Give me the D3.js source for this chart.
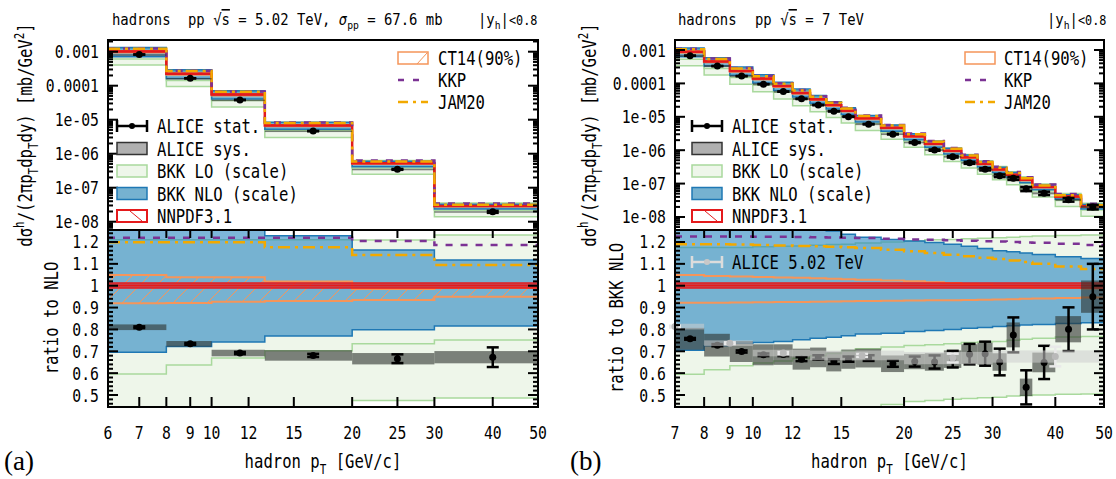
<!DOCTYPE html>
<html><head><meta charset="utf-8">
<script src="https://cdn.jsdelivr.net/npm/d3@7"></script>
<style>body{margin:0;background:#fff} text{white-space:pre}</style>
</head><body><svg id="c" width="1116" height="479"></svg>
<script>
// ---------------- DATA ----------------
// Panel (a): 5.02 TeV
const binEdgesA = [6,8,10,13,20,30,50];
const ptA = [7,9,11.5,16.5,25,40];
const nloCentralA = [1.02e-3,2.25e-4,5.5e-5,6.8e-6,5.2e-7,2.9e-8];
const aliceA = [0.810,0.734,0.692,0.681,0.666,0.673];
const aliceStatA = [0.004,0.004,0.005,0.007,0.020,0.045];
const aliceSysA = [0.013,0.013,0.015,0.024,0.026,0.028];
const nloLowA = [0.696,0.722,0.742,0.770,0.798,0.816];
const nloHighA = [1.30,1.30,1.30,1.229,1.163,1.118];
const loLowA = [0.40,0.42,0.43,0.44,0.475,0.486];
const loHighA = [1.21,1.21,1.21,1.21,1.209,1.232];
const loMidA = [0.596,0.637,0.669,0.702,0.734,0.752];
const ct14HighA = [1.049,1.039,1.039,1.019,0.985,0.989];
const ct14LowA = [0.920,0.921,0.927,0.930,0.935,0.950];
const nnpdfHighA = [1.012,1.012,1.012,1.012,1.012,1.012];
const nnpdfLowA = [0.990,0.990,0.990,0.990,0.990,0.990];
const kkpA = [1.220,1.220,1.220,1.220,1.205,1.186];
const jam20A = [1.199,1.199,1.199,1.176,1.141,1.095];

// Panel (b): 7 TeV
const binEdgesB = [7,8,9,10,11,12,13,14,15,16,18,20,22,24,26,28,30,32,34,36,40,45,50];
const ptB = [7.5,8.5,9.5,10.5,11.5,12.5,13.5,14.5,15.5,17,19,21,23,25,27,29,31,33,35,38,42.5,47.5];
const nloCentralB = [8.9e-4,4.55e-4,2.37e-4,1.39e-4,8.3e-5,5.2e-5,3.35e-5,2.25e-5,1.52e-5,9.0e-6,4.7e-6,2.6e-6,1.55e-6,9.6e-7,6.1e-7,3.9e-7,2.65e-7,1.85e-7,1.3e-7,7.9e-8,4.1e-8,2.1e-8];
const aliceB = [0.757,0.728,0.699,0.684,0.685,0.664,0.672,0.653,0.664,0.669,0.643,0.653,0.651,0.664,0.687,0.689,0.651,0.775,0.535,0.649,0.801,0.950];
const aliceStatB = [0.004,0.005,0.005,0.006,0.007,0.009,0.010,0.011,0.012,0.013,0.014,0.023,0.030,0.038,0.047,0.055,0.061,0.080,0.078,0.076,0.100,0.150];
const aliceSysB = [0.050,0.052,0.048,0.048,0.047,0.048,0.045,0.045,0.044,0.043,0.038,0.035,0.040,0.040,0.045,0.050,0.040,0.057,0.040,0.045,0.060,0.074];
const nloLowB = [0.705,0.725,0.737,0.740,0.745,0.753,0.760,0.764,0.771,0.779,0.783,0.790,0.795,0.800,0.805,0.809,0.813,0.817,0.820,0.823,0.827,0.830];
const nloHighB = [1.30,1.30,1.30,1.30,1.30,1.30,1.30,1.25,1.235,1.222,1.212,1.205,1.198,1.190,1.180,1.170,1.160,1.155,1.150,1.143,1.133,1.125];
const loLowB = [0.38,0.39,0.40,0.405,0.41,0.415,0.42,0.425,0.43,0.435,0.456,0.470,0.475,0.480,0.484,0.487,0.490,0.495,0.498,0.500,0.503,0.505];
const loHighB = [1.175,1.175,1.175,1.178,1.180,1.182,1.185,1.188,1.190,1.195,1.200,1.205,1.210,1.212,1.215,1.217,1.220,1.222,1.225,1.227,1.230,1.232];
const loMidB = [0.595,0.615,0.634,0.646,0.655,0.668,0.680,0.690,0.700,0.712,0.720,0.726,0.730,0.735,0.740,0.742,0.745,0.750,0.755,0.760,0.765,0.768];
const ct14HighB = [1.049,1.045,1.042,1.040,1.038,1.036,1.034,1.032,1.030,1.027,1.024,1.020,1.016,1.012,1.008,1.004,1.000,0.997,0.994,0.991,0.989,0.987];
const ct14LowB = [0.922,0.922,0.923,0.924,0.925,0.926,0.927,0.928,0.929,0.930,0.931,0.932,0.933,0.934,0.935,0.936,0.937,0.938,0.940,0.942,0.944,0.946];
const nnpdfHighB = [1.012,1.012,1.012,1.012,1.012,1.012,1.012,1.012,1.012,1.012,1.012,1.012,1.012,1.012,1.012,1.012,1.012,1.012,1.012,1.012,1.012,1.012];
const nnpdfLowB = [0.990,0.990,0.990,0.990,0.990,0.990,0.990,0.990,0.990,0.990,0.990,0.990,0.990,0.990,0.990,0.990,0.990,0.990,0.990,0.990,0.990,0.990];
const kkpB = [1.225,1.225,1.225,1.224,1.224,1.223,1.222,1.221,1.220,1.218,1.215,1.212,1.210,1.208,1.206,1.204,1.202,1.200,1.198,1.196,1.192,1.186];
const jam20B = [1.190,1.190,1.188,1.186,1.184,1.182,1.180,1.178,1.176,1.172,1.165,1.158,1.150,1.142,1.135,1.128,1.122,1.115,1.108,1.100,1.088,1.077];

// ALICE 5.02 TeV overlay in panel (b)
const binEdges502 = [6,8,10,13,20,30,50];
const pt502 = [7,9,11.5,16.5,25,40];
const alice502 = [0.813,0.737,0.692,0.681,0.669,0.676];
const alice502Stat = [0.004,0.004,0.005,0.007,0.020,0.045];
const alice502Sys = [0.013,0.013,0.015,0.022,0.028,0.028];

// Ticks
const xTicksA = [6,7,8,9,10,12,15,20,25,30,40,50];
const xTicksB = [7,8,9,10,12,15,20,25,30,40,50];
const yTicksUpper = [1e-3,1e-4,1e-5,1e-6,1e-7,1e-8];
const yTickLabelsUpper = ["0.001","0.0001","1e-05","1e-06","1e-07","1e-08"];
const yTicksLower = [0.5,0.6,0.7,0.8,0.9,1.0,1.1,1.2];
const yTickLabelsLower = ["0.5","0.6","0.7","0.8","0.9","1","1.1","1.2"];

// ---------------- DRAWING ----------------
const MONO = "'DejaVu Sans Mono', monospace";
const C = {loFill:'#eef6ea', loStroke:'#a9d99d', nloFill:'rgba(38,133,191,0.6)', nloStroke:'#1f78b4',
  nloLeg:'#76b2d0', ct:'#f5955a', nn:'#e41a1c', kkp:'#7b3294', jam:'#f2a900',
  sys:'rgba(45,50,45,0.6)', ov:'rgba(205,205,205,0.55)'};
const svg = d3.select('#c');
const defs = svg.append('defs');
const hatch = defs.append('pattern').attr('id','hatch').attr('patternUnits','userSpaceOnUse')
  .attr('width',17).attr('height',17);
hatch.append('path').attr('d','M0,17 L17,0 M-4,4 L4,-4 M13,21 L21,13').attr('stroke',C.ct).attr('stroke-width',1);

function clip(id,x,y,w,h){defs.append('clipPath').attr('id',id).append('rect').attr('x',x).attr('y',y).attr('width',w).attr('height',h);}

function rich(g,x,y,segs,o={}){
  const size=o.size||18, sx=o.sx||0.8;
  let tr=`translate(${x},${y})`; if(o.rot) tr+=` rotate(${o.rot})`; tr+=` scale(${sx},1)`;
  const t=g.append('text').attr('transform',tr).attr('font-family',o.family||MONO).attr('font-size',size)
    .attr('text-anchor',o.anchor||'start').attr('fill',o.fill||'#000').attr('xml:space','preserve');
  if(typeof segs==='string') segs=[{t:segs}];
  let cur=0;
  segs.forEach(s=>{
    const shift = s.s==='sub'? size*0.28 : s.s==='sup'? -size*0.42 : 0;
    const ts=t.append('tspan').text(s.t).attr('dy',shift-cur);
    cur=shift;
    if(s.s) ts.attr('font-size',size*0.7);
    if(s.k) ts.attr('font-size',size*s.k);
    if(s.i) ts.attr('font-style','italic');
    if(s.o) ts.style('text-decoration','overline');
  });
  return t;
}

function drawPanel(P){
  const g=svg.append('g');
  const x=d3.scaleLog().domain([P.xmin,P.xmax]).range([P.left,P.right]);
  const yU=d3.scaleLog().domain([Math.pow(10,P.uLo),Math.pow(10,P.uHi)]).range([230,40]);
  const yL=d3.scaleLinear().domain([0.4451,1.2549]).range([407,230]);
  clip('cu'+P.id,P.left,40,P.right-P.left,190);
  clip('cl'+P.id,P.left,230,P.right-P.left,177);
  const U=g.append('g').attr('clip-path',`url(#cu${P.id})`);
  const L=g.append('g').attr('clip-path',`url(#cl${P.id})`);

  function layers(G,y,conv,lower){
    const e=P.edges,n=e.length-1;
    const steps=f=>{const a=[];for(let i=0;i<n;i++){a.push([e[i],f(i)]);a.push([e[i+1],f(i)]);}return a;};
    const band=(lo,hi)=>{const a=[];for(let i=0;i<n;i++){const l=conv(i,lo[i]),h=conv(i,hi[i]);a.push([e[i],l,h]);a.push([e[i+1],l,h]);}return a;};
    const area=d3.area().x(d=>x(d[0])).y0(d=>y(d[1])).y1(d=>y(d[2]));
    const line=d3.line().x(d=>x(d[0])).y(d=>y(d[1]));
    const ln=arr=>line(steps(i=>conv(i,arr[i])));
    // LO
    G.append('path').attr('d',area(band(P.loLow,P.loHigh))).attr('fill',C.loFill);
    [P.loLow,P.loHigh,P.loMid].forEach(a=>G.append('path').attr('d',ln(a)).attr('fill','none').attr('stroke',C.loStroke).attr('stroke-width',1.5));
    // NLO
    G.append('path').attr('d',area(band(P.nloLow,P.nloHigh))).attr('fill',C.nloFill);
    [P.nloLow,P.nloHigh].forEach(a=>G.append('path').attr('d',ln(a)).attr('fill','none').attr('stroke',C.nloStroke).attr('stroke-width',1.5));
    // CT14
    if(lower && P.hatch) G.append('path').attr('d',area(band(P.ctLow,P.ctHigh))).attr('fill','url(#hatch)');
    [P.ctLow,P.ctHigh].forEach(a=>G.append('path').attr('d',ln(a)).attr('fill','none').attr('stroke',C.ct).attr('stroke-width',lower?2:1.5));
    // NNPDF
    G.append('path').attr('d',area(band(P.nnLow,P.nnHigh))).attr('fill','rgba(228,26,28,0.55)');
    [P.nnLow,P.nnHigh].forEach(a=>G.append('path').attr('d',ln(a)).attr('fill','none').attr('stroke',C.nn).attr('stroke-width',lower?1.5:1.5));
    G.append('path').attr('d',ln(P.nnLow.map((v,i)=>(v+P.nnHigh[i])/2))).attr('fill','none').attr('stroke',C.nn).attr('stroke-width',lower?2:2.5);
    // KKP, JAM20
    G.append('path').attr('d',ln(P.kkp)).attr('fill','none').attr('stroke',C.kkp).attr('stroke-width',2.5).attr('stroke-dasharray','7,8');
    G.append('path').attr('d',ln(P.jam)).attr('fill','none').attr('stroke',C.jam).attr('stroke-width',2.5).attr('stroke-dasharray','12,5,3,5');
    // ALICE sys
    P.alice.forEach((r,i)=>{
      const y0=y(conv(i,r+P.sys[i])),y1=y(conv(i,r-P.sys[i]));
      G.append('rect').attr('x',x(e[i])).attr('width',x(e[i+1])-x(e[i])).attr('y',y0).attr('height',Math.max(1.5,y1-y0)).attr('fill',C.sys);
    });
    // ALICE points
    P.alice.forEach((r,i)=>{
      const px=x(P.pt[i]),py=y(conv(i,r)),ya=y(conv(i,r+P.stat[i])),yb=y(conv(i,r-P.stat[i]));
      const gg=G.append('g').attr('stroke','#000').attr('stroke-width',2.5);
      gg.append('line').attr('x1',px).attr('x2',px).attr('y1',ya).attr('y2',yb);
      gg.append('line').attr('x1',px-6).attr('x2',px+6).attr('y1',ya).attr('y2',ya);
      gg.append('line').attr('x1',px-6).attr('x2',px+6).attr('y1',yb).attr('y2',yb);
      G.append('circle').attr('cx',px).attr('cy',py).attr('r',3.5).attr('fill','#000');
    });
  }
  layers(U,yU,(i,r)=>P.nlo[i]*r,false);
  layers(L,yL,(i,r)=>r,true);

  // 5.02 overlay
  if(P.ov){
    const o=P.ov;
    o.val.forEach((r,i)=>{
      L.append('rect').attr('x',x(Math.max(o.edges[i],P.xmin))).attr('width',x(o.edges[i+1])-x(Math.max(o.edges[i],P.xmin)))
        .attr('y',yL(r+o.sys[i])).attr('height',yL(r-o.sys[i])-yL(r+o.sys[i])).attr('fill',C.ov);
    });
    o.val.forEach((r,i)=>{
      const px=x(o.pt[i]),ya=yL(r+o.stat[i]),yb=yL(r-o.stat[i]);
      const gg=g.append('g').attr('stroke','#e9e9e9').attr('stroke-width',2.5);
      gg.append('line').attr('x1',px).attr('x2',px).attr('y1',ya).attr('y2',yb);
      gg.append('line').attr('x1',px-6).attr('x2',px+6).attr('y1',ya).attr('y2',ya);
      gg.append('line').attr('x1',px-6).attr('x2',px+6).attr('y1',yb).attr('y2',yb);
      g.append('circle').attr('cx',px).attr('cy',yL(r)).attr('r',3.5).attr('fill','#b9b9b9');
    });
  }

  // Axes / ticks
  const A=g.append('g').attr('stroke','#000');
  // upper y ticks
  for(let k=-9;k<=-2;k++){
    for(let m=1;m<=9;m++){
      const v=m*Math.pow(10,k);
      if(v<yU.domain()[0]||v>yU.domain()[1]) continue;
      const yy=yU(v),len=m===1?10:5;
      A.append('line').attr('x1',P.left).attr('x2',P.left+len).attr('y1',yy).attr('y2',yy).attr('stroke-width',2);
      A.append('line').attr('x1',P.right).attr('x2',P.right-len).attr('y1',yy).attr('y2',yy).attr('stroke-width',2);
    }
  }
  yTicksUpper.forEach((v,i)=>rich(g,P.left-9,yU(v)+6.5,yTickLabelsUpper[i],{size:18,sx:0.82,anchor:'end'}));
  // lower y ticks
  for(let j=23;j<=62;j++){
    const v=j*0.02; const yy=yL(v); const major=(j%5===0);
    const len=major?10:5;
    A.append('line').attr('x1',P.left).attr('x2',P.left+len).attr('y1',yy).attr('y2',yy).attr('stroke-width',2);
    A.append('line').attr('x1',P.right).attr('x2',P.right-len).attr('y1',yy).attr('y2',yy).attr('stroke-width',2);
  }
  yTicksLower.forEach((v,i)=>rich(g,P.left-9,yL(v)+6.5,yTickLabelsLower[i],{size:18,sx:0.82,anchor:'end'}));
  // x ticks
  P.xticks.forEach(v=>{
    const xx=x(v);
    A.append('line').attr('x1',xx).attr('x2',xx).attr('y1',407).attr('y2',397).attr('stroke-width',2);
    A.append('line').attr('x1',xx).attr('x2',xx).attr('y1',230).attr('y2',238).attr('stroke-width',2);
    rich(g,xx,439,String(v),{size:18,sx:0.82,anchor:'middle'});
  });
  // frames
  g.append('rect').attr('x',P.left).attr('y',40).attr('width',P.right-P.left).attr('height',190).attr('fill','none').attr('stroke','#000').attr('stroke-width',2);
  g.append('rect').attr('x',P.left).attr('y',230).attr('width',P.right-P.left).attr('height',177).attr('fill','none').attr('stroke','#000').attr('stroke-width',2);

  // axis titles
  rich(g,(P.left+P.right)/2,468,[{t:'hadron p'},{t:'T',s:'sub'},{t:' [GeV/c]'}],{size:20,sx:0.78,anchor:'middle'});
  rich(g,P.yTitleX,135,[{t:'dσ'},{t:'h',s:'sup'},{t:'/(2πp'},{t:'T',s:'sub'},{t:'dp'},{t:'T',s:'sub'},{t:'dy) [mb/GeV'},{t:'2',s:'sup'},{t:']'}],{size:20,sx:0.78,anchor:'middle',rot:-90});
  rich(g,P.rTitleX,318,P.rTitle,{size:20,sx:0.78,anchor:'middle',rot:-90});
  g.append('text').attr('x',P.tagX).attr('y',470).attr('font-family',"'Liberation Serif', 'Times New Roman', serif").attr('font-size',27).text(P.tag);

  // titles
  rich(g,P.t1x,25,'hadrons',{size:16,sx:0.87});
  rich(g,P.t2x,25,P.t2,{size:16,sx:0.87});
  rich(g,P.t3x,25,[{t:'|y'},{t:'h',s:'sub'},{t:'|'},{t:'<0.8',k:0.85}],{size:16,sx:0.87});

  // Legends
  const LG=g.append('g');
  const lx=P.legL, tx=lx+40, rows=[126,148.5,171,193.5,216];
  const lab=(xx,yy,s)=>rich(LG,xx,yy+7,s,{size:20,sx:0.78});
  // ALICE stat
  let yy=rows[0];
  LG.append('line').attr('x1',lx).attr('x2',lx+30).attr('y1',yy).attr('y2',yy).attr('stroke','#000').attr('stroke-width',2.5);
  LG.append('line').attr('x1',lx).attr('x2',lx).attr('y1',yy-6).attr('y2',yy+6).attr('stroke','#000').attr('stroke-width',2.5);
  LG.append('line').attr('x1',lx+30).attr('x2',lx+30).attr('y1',yy-6).attr('y2',yy+6).attr('stroke','#000').attr('stroke-width',2.5);
  LG.append('circle').attr('cx',lx+15).attr('cy',yy).attr('r',3).attr('fill','#000');
  lab(tx,yy,'ALICE stat.');
  const box=(yy,fill,stroke,sw)=>LG.append('rect').attr('x',lx).attr('y',yy-6).attr('width',30).attr('height',12).attr('fill',fill).attr('stroke',stroke).attr('stroke-width',sw);
  box(rows[1],'#b0b0b0','#333',1.5); lab(tx,rows[1],'ALICE sys.');
  box(rows[2],C.loFill,C.loStroke,1.5); lab(tx,rows[2],'BKK LO (scale)');
  box(rows[3],C.nloLeg,C.nloStroke,1.5); lab(tx,rows[3],'BKK NLO (scale)');
  box(rows[4],'#fff',C.nn,2);
  LG.append('line').attr('x1',lx+13).attr('y1',rows[4]-5).attr('x2',lx+25).attr('y2',rows[4]+5).attr('stroke',C.nn).attr('stroke-width',1);
  lab(tx,rows[4],'NNPDF3.1');
  // right legend
  const rx=P.legR, rtx=P.legRT, rr=[58,80,102];
  LG.append('rect').attr('x',rx).attr('y',rr[0]-6).attr('width',30).attr('height',12).attr('fill','none').attr('stroke',C.ct).attr('stroke-width',1.5);
  if(P.hatch) LG.append('line').attr('x1',rx+19).attr('y1',rr[0]+6).attr('x2',rx+29).attr('y2',rr[0]-5).attr('stroke',C.ct).attr('stroke-width',1);
  lab(rtx,rr[0],'CT14(90%)');
  LG.append('line').attr('x1',rx).attr('x2',rx+30).attr('y1',rr[1]).attr('y2',rr[1]).attr('stroke',C.kkp).attr('stroke-width',2.5).attr('stroke-dasharray','6,9');
  lab(rtx,rr[1],'KKP');
  LG.append('line').attr('x1',rx).attr('x2',rx+30).attr('y1',rr[2]).attr('y2',rr[2]).attr('stroke',C.jam).attr('stroke-width',2.5).attr('stroke-dasharray','10,5,3,5');
  lab(rtx,rr[2],'JAM20');
  if(P.ov){
    const oy=262;
    const gg=LG.append('g').attr('stroke','#dcdcdc').attr('stroke-width',2.5);
    gg.append('line').attr('x1',lx).attr('x2',lx+30).attr('y1',oy).attr('y2',oy);
    gg.append('line').attr('x1',lx).attr('x2',lx).attr('y1',oy-6).attr('y2',oy+6);
    gg.append('line').attr('x1',lx+30).attr('x2',lx+30).attr('y1',oy-6).attr('y2',oy+6);
    LG.append('circle').attr('cx',lx+15).attr('cy',oy).attr('r',3).attr('fill','#c8c8c8');
    lab(tx,oy,'ALICE 5.02 TeV');
  }
}

drawPanel({id:'a',xmin:6,xmax:50,left:108,right:538,uLo:-8.244,uHi:-2.656,
  edges:binEdgesA,pt:ptA,nlo:nloCentralA,alice:aliceA,stat:aliceStatA,sys:aliceSysA,
  nloLow:nloLowA,nloHigh:nloHighA,loLow:loLowA,loHigh:loHighA,loMid:loMidA,
  ctLow:ct14LowA,ctHigh:ct14HighA,nnLow:nnpdfLowA,nnHigh:nnpdfHighA,kkp:kkpA,jam:jam20A,
  xticks:xTicksA,hatch:true,yTitleX:32,rTitleX:58,rTitle:'ratio to NLO',tag:'(a)',tagX:4,
  t1x:112,t2x:188,t3x:478,
  t2:[{t:'pp '},{t:'√'},{t:'s',o:true},{t:' = 5.02 TeV, '},{t:'σ',i:true},{t:'pp',s:'sub'},{t:' = 67.6 mb'}],
  legL:117,legR:398,legRT:438});

drawPanel({id:'b',xmin:7,xmax:50,left:675,right:1104,uLo:-8.39,uHi:-2.70,
  edges:binEdgesB,pt:ptB,nlo:nloCentralB,alice:aliceB,stat:aliceStatB,sys:aliceSysB,
  nloLow:nloLowB,nloHigh:nloHighB,loLow:loLowB,loHigh:loHighB,loMid:loMidB,
  ctLow:ct14LowB,ctHigh:ct14HighB,nnLow:nnpdfLowB,nnHigh:nnpdfHighB,kkp:kkpB,jam:jam20B,
  xticks:xTicksB,hatch:false,yTitleX:596,rTitleX:623,rTitle:'ratio to BKK NLO',tag:'(b)',tagX:570,
  t1x:678,t2x:755,t3x:1047,
  t2:[{t:'pp '},{t:'√'},{t:'s',o:true},{t:' = 7 TeV'}],
  legL:692,legR:965,legRT:1004,
  ov:{edges:binEdges502,pt:pt502,val:alice502,stat:alice502Stat,sys:alice502Sys}});
</script></body></html>
